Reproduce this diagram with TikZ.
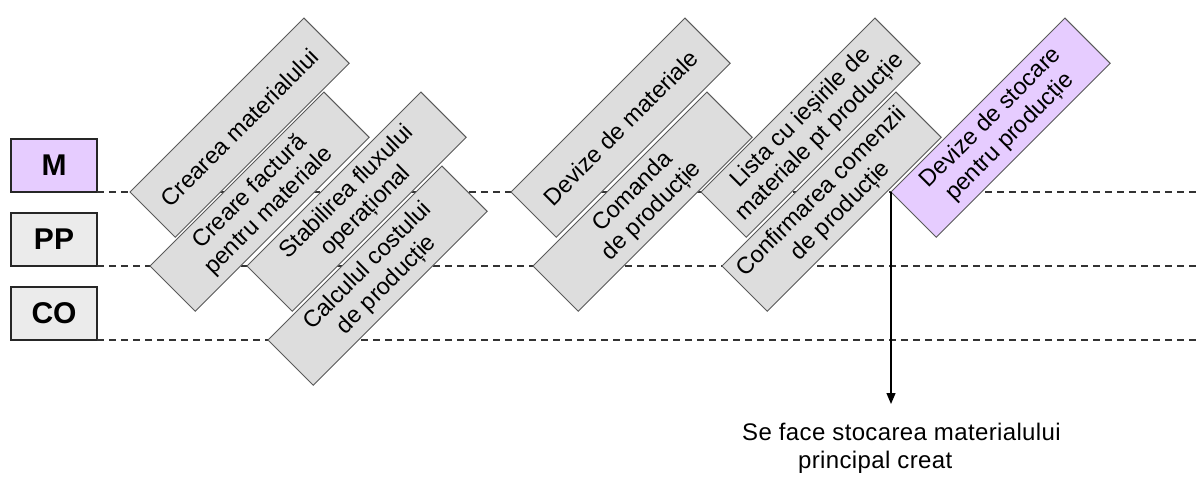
\documentclass[tikz,border=0pt]{standalone}
\usepackage{fontspec}
\setmainfont{Liberation Sans}
\newfontfamily\notefont[LetterSpace=1.5]{Liberation Sans}
\usetikzlibrary{arrows.meta}
\definecolor{boxgray}{HTML}{DDDDDD}
\definecolor{lav}{HTML}{E6CCFF}
\definecolor{lblgray}{HTML}{EBEBEB}
\definecolor{edgegray}{HTML}{5A5A5A}
\tikzset{
  task/.style={draw=edgegray, line width=1pt, fill=boxgray, rotate=45, anchor=north west,
    minimum width=246pt, minimum height=64pt, inner sep=0pt, outer sep=0pt, align=center,
    font=\fontsize{23.5}{27}\selectfont},
  purpletask/.style={task, fill=lav},
  lane/.style={draw=black!85, line width=1.3pt, minimum width=86pt, minimum height=53pt,
    anchor=south west, inner sep=0pt, outer sep=0pt, font=\bfseries\fontsize{30}{30}\selectfont},
  laneline/.style={draw=black!80, line width=1.2pt, dash pattern=on 7pt off 5pt},
  note/.style={anchor=base west, inner sep=0pt, font=\notefont\fontsize{24}{28}\selectfont},
  flow/.style={draw=black, line width=1.3pt, -{Triangle[width=9pt,length=11pt]}}
}
\begin{document}
\begin{tikzpicture}[x=1pt,y=-1pt]
\useasboundingbox (0,0) rectangle (1199,478);
% lanes
\node[lane, fill=lav] (M) at (11,192) {M};
\node[lane, fill=lblgray] (PP) at (11,266) {PP};
\node[lane, fill=lblgray] (CO) at (11,340) {CO};
\coordinate (Mend) at (1199,192);
\coordinate (PPend) at (1199,266);
\coordinate (COend) at (1199,340);
\draw[laneline] (M.south east) -- (Mend);
\draw[laneline] (PP.south east) -- (PPend);
\draw[laneline] (CO.south east) -- (COend);
% tasks group 1
\node[task] (t1) at (130,192) {Crearea materialului};
\node[task] (t2) at (150,266) {Creare factură\\pentru materiale};
\node[task] (t3) at (247,266) {Stabilirea fluxului\\operațional};
\node[task] (t4) at (268,340) {Calculul costului\\de producție};
% tasks group 2
\node[task] (t5) at (511,192) {Devize de materiale};
\node[task] (t6) at (533,266) {Comanda\\de producție};
\node[task] (t7) at (701,192) {Lista cu ieșirile de\\materiale pt producție};
\node[task] (t8) at (722,266) {Confirmarea comenzii\\de producție};
\node[purpletask] (t9) at (891,192) {Devize de stocare\\pentru producție};
% result
\node[note] (r1) at (742,440) {Se face stocarea materialului};
\node[note] (r2) at (798,468) {principal creat};
\coordinate (tip) at (891,404);
\draw[flow] (t9.north west) -- (tip);
\end{tikzpicture}
\end{document}
